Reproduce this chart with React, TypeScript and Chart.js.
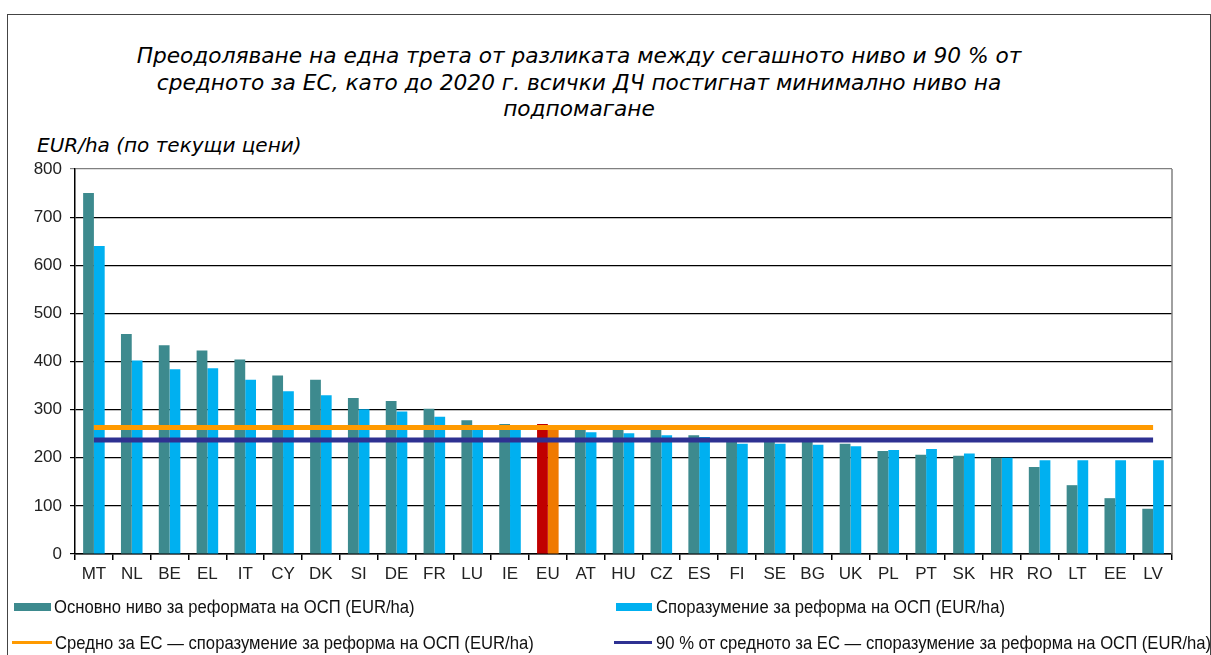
import React, { useEffect, useRef } from 'react';
import { Chart, registerables } from 'chart.js';
Chart.register(...registerables);

const titleLines = [
  'Преодоляване на една трета от разликата между сегашното ниво и 90 % от',
  'средното за ЕС, като до 2020 г. всички ДЧ постигнат минимално ниво на',
  'подпомагане',
];
const unitLabel = 'EUR/ha (по текущи цени)';

const categories = ['MT','NL','BE','EL','IT','CY','DK','SI','DE','FR','LU','IE','EU','AT','HU','CZ','ES','FI','SE','BG','UK','PL','PT','SK','HR','RO','LT','EE','LV'];

const baseLevel = [750, 457, 434, 423, 404, 371, 362, 324, 318, 302, 278, 270, 270, 262, 262, 260, 247, 237, 236, 236, 229, 214, 206, 204, 200, 181, 143, 116, 94];
const agreement = [640, 402, 384, 386, 362, 338, 330, 301, 296, 285, 268, 262, 264, 253, 251, 247, 243, 229, 229, 227, 224, 216, 218, 209, 200, 195, 195, 195, 195];

const euAverage = 263;
const euAverage90 = 237;

const yTicks = [0, 100, 200, 300, 400, 500, 600, 700, 800];

const labelBase = 'Основно ниво за реформата на ОСП (EUR/ha)';
const labelAgreement = 'Споразумение за реформа на ОСП (EUR/ha)';
const labelAvg = 'Средно за ЕС — споразумение за реформа на ОСП (EUR/ha)';
const labelAvg90 = '90 % от средното за ЕС — споразумение за реформа на ОСП (EUR/ha)';

const TEAL = '#3D8A8E';
const SKY = '#00B0F0';
const RED = '#C00000';
const ORANGE_BAR = '#F07A00';
const ORANGE = '#FF9A00';
const NAVY = '#2E3192';

const TICK_FONT = { family: '"Liberation Sans", Arial, sans-serif', size: 17 };

export default function App() {
  const ref = useRef<HTMLCanvasElement>(null);

  useEffect(() => {
    document.documentElement.style.overflow = 'hidden';
    document.body.style.overflow = 'hidden';
    const canvas = ref.current;
    if (!canvas) return;

    const rightFrame = {
      id: 'rightFrame',
      beforeDatasetsDraw(chart: any) {
        const { ctx, chartArea } = chart;
        ctx.save();
        ctx.strokeStyle = '#808080';
        ctx.lineWidth = 1.5;
        ctx.beginPath();
        ctx.moveTo(chartArea.right, chartArea.top);
        ctx.lineTo(chartArea.right, chartArea.bottom);
        ctx.stroke();
        ctx.restore();
      },
    };

    const chart = new Chart(canvas, {
      type: 'bar',
      data: {
        labels: categories,
        datasets: [
          {
            type: 'line',
            label: labelAvg,
            data: [{ x: categories[0], y: euAverage }, { x: categories[categories.length - 1], y: euAverage }],
            borderColor: ORANGE,
            backgroundColor: ORANGE,
            borderWidth: 5,
            pointRadius: 0,
            order: 0,
          } as any,
          {
            type: 'line',
            label: labelAvg90,
            data: [{ x: categories[0], y: euAverage90 }, { x: categories[categories.length - 1], y: euAverage90 }],
            borderColor: NAVY,
            backgroundColor: NAVY,
            borderWidth: 5,
            pointRadius: 0,
            order: 0,
          } as any,
          {
            label: labelBase,
            data: baseLevel,
            backgroundColor: categories.map((c) => (c === 'EU' ? RED : TEAL)),
            categoryPercentage: 0.57,
            barPercentage: 1,
            order: 1,
          },
          {
            label: labelAgreement,
            data: agreement,
            backgroundColor: categories.map((c) => (c === 'EU' ? ORANGE_BAR : SKY)),
            categoryPercentage: 0.57,
            barPercentage: 1,
            order: 1,
          },
        ],
      },
      options: {
        animation: false,
        responsive: false,
        devicePixelRatio: 1,
        layout: { padding: { top: 169, right: 39, left: 0, bottom: 0 } },
        plugins: {
          legend: { display: false },
          title: { display: false },
          tooltip: { enabled: false },
        },
        scales: {
          x: {
            type: 'category',
            offset: true,
            grid: {
              display: true,
              drawOnChartArea: false,
              drawTicks: true,
              tickLength: 6,
              color: '#000',
              lineWidth: 1.5,
              offset: true,
            },
            border: { display: true, color: '#000', width: 1.5 },
            ticks: { color: '#222', font: TICK_FONT, padding: 4, maxRotation: 0, autoSkip: false },
            afterFit: (s: any) => { s.height = 101; },
          },
          y: {
            min: 0,
            max: 800,
            afterBuildTicks: (s: any) => { s.ticks = yTicks.map((v) => ({ value: v })); },
            grid: {
              color: (c: any) => (c.tick && c.tick.value === 800 ? '#808080' : '#000'),
              lineWidth: 1.2,
              drawTicks: true,
              tickLength: 5,
            },
            border: { display: true, color: '#000', width: 1.5 },
            ticks: { color: '#222', font: TICK_FONT, padding: 8 },
            afterFit: (s: any) => { s.width = 75; },
          },
        },
      },
      plugins: [rightFrame],
    } as any);

    return () => chart.destroy();
  }, []);

  const legendFont: React.CSSProperties = {
    position: 'absolute',
    fontFamily: '"Liberation Sans", Arial, sans-serif',
    fontSize: 18,
    lineHeight: '20px',
    color: '#111',
    whiteSpace: 'nowrap',
    transform: 'scaleX(0.925)',
    transformOrigin: 'left center',
  };

  return (
    <div>
      <div
        style={{
          position: 'absolute',
          left: 7,
          top: 14,
          width: 1204,
          height: 700,
          border: '1px solid #444',
          boxSizing: 'border-box',
        }}
      />
      <div
        style={{
          position: 'absolute',
          left: 0,
          top: 43,
          width: 1158,
          textAlign: 'center',
          fontFamily: '"DejaVu Sans", Verdana, sans-serif',
          fontStyle: 'italic',
          fontSize: 21.7,
          lineHeight: '26.5px',
          color: '#000',
        }}
      >
        {titleLines.map((t, i) => (
          <div key={i}>{t}</div>
        ))}
      </div>
      <div
        style={{
          position: 'absolute',
          left: 37,
          top: 132,
          fontFamily: '"DejaVu Sans", Verdana, sans-serif',
          fontStyle: 'italic',
          fontSize: 20,
          lineHeight: '26px',
          color: '#000',
          whiteSpace: 'nowrap',
        }}
      >
        {unitLabel}
      </div>
      <canvas
        ref={ref}
        width={1211}
        height={655}
        style={{ position: 'absolute', left: 0, top: 0, width: 1211, height: 655 }}
      />
      <div style={{ position: 'absolute', left: 14, top: 603, width: 37, height: 8, background: TEAL }} />
      <div style={{ ...legendFont, left: 54, top: 597 }}>{labelBase}</div>
      <div style={{ position: 'absolute', left: 616, top: 603, width: 36, height: 8, background: SKY }} />
      <div style={{ ...legendFont, left: 656, top: 597 }}>{labelAgreement}</div>
      <div style={{ position: 'absolute', left: 12, top: 641, width: 40, height: 3, background: ORANGE }} />
      <div style={{ ...legendFont, left: 55, top: 633 }}>{labelAvg}</div>
      <div style={{ position: 'absolute', left: 614, top: 641, width: 38, height: 3, background: NAVY }} />
      <div style={{ ...legendFont, left: 656, top: 633 }}>{labelAvg90}</div>
    </div>
  );
}
